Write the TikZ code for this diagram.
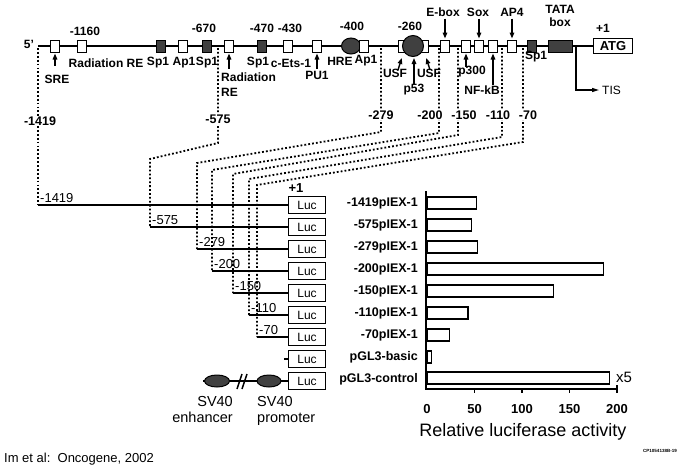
\documentclass[tikz,border=0pt]{standalone}
\usepackage{fontspec}
\setmainfont{Liberation Sans}
\usetikzlibrary{calc,arrows.meta,shapes.geometric}
\tikzset{
	dna/.style={line width=1.5pt},
	site/.style={draw, line width=1pt, fill=white, minimum width=9pt, minimum height=12pt, inner sep=0pt},
	dsite/.style={site, fill=black!75},
	tf/.style={font=\fontsize{12}{13}\selectfont\bfseries, inner sep=0pt},
	upar/.style={line width=1.4pt, -{Triangle[length=6pt,width=4.5pt]}, shorten >=1pt},
	dots/.style={line width=1.8pt, dash pattern=on 1.8pt off 2.1pt},
	endlbl/.style={font=\fontsize{12.5}{14}\selectfont\bfseries, fill=white, inner sep=1pt},
	cline/.style={line width=1.5pt},
	cl/.style={font=\fontsize{13}{14}\selectfont, inner sep=1pt, anchor=south west},
	luc/.style={draw, line width=1.2pt, fill=white, minimum width=37pt, minimum height=17pt, inner sep=0pt, font=\fontsize{12}{13}\selectfont},
	bl/.style={font=\fontsize{12.5}{14}\selectfont\bfseries, anchor=east, inner sep=0pt},
	bar/.style={draw, line width=1.2pt, fill=white},
}

\begin{document}
\begin{tikzpicture}[x=1pt, y=-1pt]
	%%%%% START %%%%%
	\useasboundingbox (0,0) rectangle (678,472);
	
	% deletion end points, dotted down to the constructs
	\coordinate (t1) at (38,48);  \coordinate (c1) at (38,205);
	\coordinate (t2) at (218,48); \coordinate (c2) at (150,227);
	\coordinate (t3) at (381,48); \coordinate (c3) at (197,249);
	\coordinate (t4) at (439,48); \coordinate (c4) at (212,271);
	\coordinate (t5) at (458,48); \coordinate (c5) at (233,293);
	\coordinate (t6) at (502,48); \coordinate (c6) at (249,315);
	\coordinate (t7) at (523,48); \coordinate (c7) at (257,337);
	\coordinate (c8) at (284,359);
	\coordinate (c9) at (203,381);
	
	\draw[dots] (t1) -- (c1);
	\draw[dots] (t2) -- (218,143) -- (150,159) -- (c2);
	\draw[dots] (t3) -- (381,132) -- (197,163) -- (c3);
	\draw[dots] (t4) -- (439,133) -- (212,170) -- (c4);
	\draw[dots] (t5) -- (458,135) -- (233,174) -- (c5);
	\draw[dots] (t6) -- (502,137) -- (249,179) -- (c6);
	\draw[dots] (t7) -- (523,142) -- (257,185) -- (c7);
	
	\node[endlbl] (d1419) at (40,121) {-1419};
	\node[endlbl] (d575) at (218,119) {-575};
	\node[endlbl] (d279) at (381,115) {-279};
	\node[endlbl] (d200) at (430,115) {-200};
	\node[endlbl] (d150) at (464,115) {-150};
	\node[endlbl] (d110) at (498,115) {-110};
	\node[endlbl] (d70) at (528,115) {-70};
	
	% promoter
	\node[tf] (five) at (29,44) {5'};
	\coordinate (p0) at (38,46);
	\node[draw, line width=1.5pt, minimum width=39pt, minimum height=15pt, inner sep=0pt, font=\fontsize{13}{14}\selectfont\bfseries] (atg) at (613,46) {ATG};
	\node[tf] (plus1) at (603,28) {+1};
	\draw[dna] (p0) -- (atg.west);
	
	\coordinate (tis0) at (576,46);
	\coordinate (tis) at (599,90);
	\draw[line width=1.2pt, -{Triangle[length=7pt,width=4pt]}] (tis0) |- (tis);
	\node[anchor=west, inner sep=0pt, font=\fontsize{12}{13}\selectfont] (tisl) at (602,90) {TIS};
	
	\node[site] (sre) at (55,46) {};
	\node[site] (rre1) at (82,46) {};
	\node[dsite] (spa) at (161,46) {};
	\node[site] (apa) at (183,46) {};
	\node[dsite] (spb) at (207,46) {};
	\node[site] (rre2) at (229,46) {};
	\node[dsite] (spc) at (262,46) {};
	\node[site] (ets) at (288,46) {};
	\node[site] (pu) at (317,46) {};
	\node[ellipse, draw, line width=1pt, fill=black!75, minimum width=19pt, minimum height=16pt, inner sep=0pt] (hre) at (351,46) {};
	\node[site] (apb) at (364,46) {};
	\node[site, minimum width=30pt] (usf) at (413,46) {};
	\node[circle, draw, line width=1pt, fill=black!75, minimum size=21pt, inner sep=0pt] (p53) at (413,46) {};
	\node[site] (ebox) at (445,46) {};
	\node[site] (p300) at (466,46) {};
	\node[site] (sox) at (479,46) {};
	\node[site] (nfkb) at (493,46) {};
	\node[site] (ap4) at (512,46) {};
	\node[dsite] (spd) at (532,46) {};
	\node[dsite, minimum width=24pt] (tata) at (560,46) {};
	
	% labels above
	\node[tf] (l1160) at (85,31) {-1160};
	\node[tf] (l670) at (204,28) {-670};
	\node[tf] (l470) at (262,28) {-470};
	\node[tf] (l430) at (290,28) {-430};
	\node[tf] (l400) at (352,26) {-400};
	\node[tf] (l260) at (410,26) {-260};
	\node[tf] (lebox) at (443,12) {E-box};
	\node[tf] (lsox) at (478,12) {Sox};
	\node[tf] (lap4) at (512,12) {AP4};
	\node[tf] (ltata) at (560,9) {TATA};
	\node[tf] (lbox) at (560,22) {box};
	
	\draw[upar] ($(ebox.north)+(0,-21)$) -- (ebox.north);
	\draw[upar] ($(sox.north)+(0,-21)$) -- (sox.north);
	\draw[upar] ($(ap4.north)+(0,-21)$) -- (ap4.north);
	
	% labels below
	\node[tf] (lsre) at (57,79) {SRE};
	\node[tf] (lrre1) at (106,63) {Radiation RE};
	\node[tf] (lspa) at (158,63) {Sp1};
	\node[tf] (lapa) at (184,63) {Ap1};
	\node[tf] (lspb) at (207,63) {Sp1};
	\node[tf, anchor=west] (lrre2) at (221,77) {Radiation};
	\node[tf, anchor=west] (lre) at (221,92) {RE};
	\node[tf] (lspc) at (258,63) {Sp1};
	\node[tf] (lets) at (291,63) {c-Ets-1};
	\node[tf] (lpu) at (317,75) {PU1};
	\node[tf] (lhre) at (340,61) {HRE};
	\node[tf] (lapb) at (366,61) {Ap1};
	\node[tf] (lusfa) at (395,73) {USF};
	\node[tf] (lusfb) at (429,73) {USF};
	\node[tf] (lp53) at (414,90) {p53};
	\node[tf] (lp300) at (472,72) {p300};
	\node[tf] (lnfkb) at (482,90) {NF-kB};
	\node[tf] (lspd) at (536,57) {Sp1};
	
	\draw[upar] ($(sre.south)+(0,13)$) -- (sre.south);
	\draw[upar] ($(rre2.south)+(0,16)$) -- (rre2.south);
	\draw[upar] ($(pu.south)+(0,16)$) -- (pu.south);
	\draw[upar] (398,70) -- (402,57);
	\draw[upar] (430,70) -- (426,57);
	\draw[upar] ($(p53.south)+(1,27)$) -- ($(p53.south)+(1,0)$);
	\draw[upar] ($(p300.south)+(0,14)$) -- (p300.south);
	\draw[upar] ($(nfkb.south)+(0,32)$) -- (nfkb.south);
	
	% constructs
	\node[luc] (luc1) at (307,205) {Luc};
	\node[luc] (luc2) at (307,227) {Luc};
	\node[luc] (luc3) at (307,249) {Luc};
	\node[luc] (luc4) at (307,271) {Luc};
	\node[luc] (luc5) at (307,293) {Luc};
	\node[luc] (luc6) at (307,315) {Luc};
	\node[luc] (luc7) at (307,337) {Luc};
	\node[luc] (luc8) at (307,359) {Luc};
	\node[luc] (luc9) at (307,381) {Luc};
	\node[tf, font=\fontsize{13}{14}\selectfont\bfseries] (plus1b) at (296,188) {+1};
	
	\draw[cline] (c1) -- (luc1);
	\draw[cline] (c2) -- (luc2);
	\draw[cline] (c3) -- (luc3);
	\draw[cline] (c4) -- (luc4);
	\draw[cline] (c5) -- (luc5);
	\draw[cline] (c6) -- (luc6);
	\draw[cline] (c7) -- (luc7);
	\draw[cline] (c8) -- (luc8);
	\draw[cline] (c9) -- (luc9);
	
	\node[cl] (k1419) at ($(c1)+(1,-1)$) {-1419};
	\node[cl] (k575) at ($(c2)+(1,-1)$) {-575};
	\node[cl] (k279) at ($(c3)+(1,-1)$) {-279};
	\node[cl] (k200) at ($(c4)+(1,-1)$) {-200};
	\node[cl] (k150) at ($(c5)+(1,-1)$) {-150};
	\node[cl] (k110) at ($(c6)+(1,-1)$) {-110};
	\node[cl] (k70) at ($(c7)+(1,-1)$) {-70};
	
	% SV40 control
	\node[ellipse, draw, line width=1pt, fill=black!75, minimum width=25pt, minimum height=12pt, inner sep=0pt] (enh) at (217,381) {};
	\node[ellipse, draw, line width=1pt, fill=black!75, minimum width=24pt, minimum height=12pt, inner sep=0pt] (prom) at (269,381) {};
	\draw[line width=1.5pt] (237,389) -- (242,374);
	\draw[line width=1.5pt] (242,389) -- (247,374);
	\node[anchor=north east, align=right, inner sep=0pt, font=\fontsize{14.5}{16}\selectfont] (enhl) at (233,396) {SV40\\enhancer};
	\node[anchor=north west, align=left, inner sep=0pt, font=\fontsize{14.5}{16}\selectfont] (proml) at (257,396) {SV40\\promoter};
	
	% bar chart
	\node[bl] (b1) at (418,203) {-1419pIEX-1};
	\node[bl] (b2) at (418,225) {-575pIEX-1};
	\node[bl] (b3) at (418,247) {-279pIEX-1};
	\node[bl] (b4) at (418,269) {-200pIEX-1};
	\node[bl] (b5) at (418,291) {-150pIEX-1};
	\node[bl] (b6) at (418,313) {-110pIEX-1};
	\node[bl] (b7) at (418,335) {-70pIEX-1};
	\node[bl] (b8) at (418,357) {pGL3-basic};
	\node[bl] (b9) at (418,379) {pGL3-control};
	
	\draw[bar] (427,197) rectangle (476.4,209);
	\draw[bar] (427,219) rectangle (471.7,231);
	\draw[bar] (427,241) rectangle (477.4,253);
	\draw[bar] (427,263) rectangle (603.7,275);
	\draw[bar] (427,285) rectangle (553.4,297);
	\draw[bar] (427,307) rectangle (467.9,319);
	\draw[bar] (427,329) rectangle (449.8,341);
	\draw[bar] (427,351) rectangle (431.8,363);
	\draw[bar] (427,372) rectangle (609.4,384);
	\node[font=\fontsize{15}{16}\selectfont, inner sep=0pt] (x5) at (624,377) {x5};
	
	\draw[line width=1.3pt] (426,191) -- (426,389) -- (617,389);
	\draw[line width=1.3pt] (474.5,389) -- (474.5,393);
	\draw[line width=1.3pt] (522,389) -- (522,393);
	\draw[line width=1.3pt] (569.5,389) -- (569.5,393);
	\draw[line width=1.3pt] (617,385) -- (617,393);
	\node[tf, font=\fontsize{13}{14}\selectfont\bfseries] (v0) at (427,409) {0};
	\node[tf, font=\fontsize{13}{14}\selectfont\bfseries] (v50) at (474.5,409) {50};
	\node[tf, font=\fontsize{13}{14}\selectfont\bfseries] (v100) at (522,409) {100};
	\node[tf, font=\fontsize{13}{14}\selectfont\bfseries] (v150) at (569.5,409) {150};
	\node[tf, font=\fontsize{13}{14}\selectfont\bfseries] (v200) at (617,409) {200};
	\node[inner sep=0pt, font=\fontsize{18}{20}\selectfont] (axl) at (523,432) {Relative luciferase activity};
	\node[inner sep=0pt, font=\fontsize{4.5}{5}\selectfont\bfseries] (code) at (660,451) {CP1054138B-19};
	
	\node[anchor=west, inner sep=0pt, font=\fontsize{13}{14}\selectfont] (ref) at (4,459) {Im et al:\ \ Oncogene, 2002};
	
	%%%%% END %%%%%
\end{tikzpicture}
\end{document}
